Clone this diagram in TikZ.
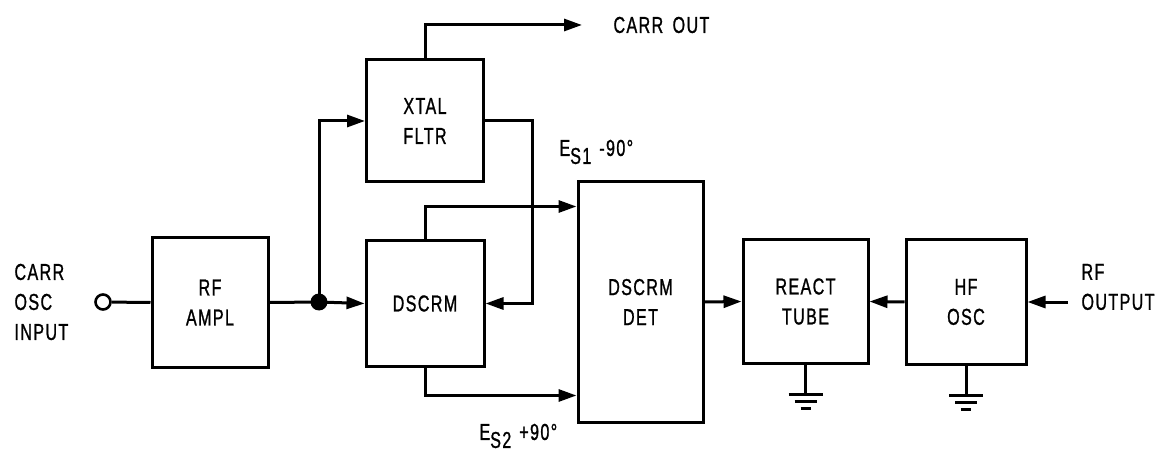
\documentclass[tikz,border=0pt]{standalone}
\usepackage{fontspec}
\setmainfont{Liberation Sans}[FakeStretch=0.7,LetterSpace=6,FakeBold=1,WordSpace=1.6]
\usetikzlibrary{arrows.meta,calc}
\begin{document}
\begin{tikzpicture}[x=1pt,y=-1pt,
  line width=3pt,
  every node/.style={font=\fontsize{23}{30}\selectfont},
  blk/.style={draw,rectangle,inner sep=0pt,align=center},
  arr/.style={-{Triangle[length=18pt,width=12pt]}},
  lbl/.style={inner sep=0pt,align=left}]
\useasboundingbox (0,0) rectangle (1156,454);
% blocks
\node[blk,minimum width=116,minimum height=129] (rf) at (210,302.5) {RF\\AMPL};
\node[blk,minimum width=117,minimum height=122] (xtal) at (425,121) {XTAL\\FLTR};
\node[blk,minimum width=118,minimum height=125] (dscrm) at (425,303.5) {DSCRM};
\node[blk,minimum width=125,minimum height=240] (det) at (640.5,302) {DSCRM\\DET};
\node[blk,minimum width=125,minimum height=123] (react) at (805.5,301.5) {REACT\\TUBE};
\node[blk,minimum width=120,minimum height=124] (hf) at (966,302) {HF\\OSC};
% terminals
\node[draw,circle,inner sep=0pt,minimum size=15,line width=2.6pt] (inp) at (103,302) {};
\node[fill,circle,inner sep=0pt,minimum size=17] (j) at (319,302) {};
\coordinate (co) at (582,25);
\coordinate (rfo) at (1068,302);
% labels
\node[lbl,anchor=west] (lin) at (13,302) {CARR\\OSC\\INPUT};
\node[lbl,anchor=west] (lco) at (612,25) {CARR OUT};
\node[lbl,anchor=west] (lrf) at (1080,287) {RF\\OUTPUT};
\node[lbl,anchor=west] (les1) at (558,152) {E\raisebox{-8pt}{S1}\hspace{8pt}-90°};
\node[lbl,anchor=west] (les2) at (478,436) {E\raisebox{-8pt}{S2}\hspace{8pt}+90°};
% connectors
\draw (inp) -- (rf.west);
\draw (rf.east) -- (j.center);
\draw[arr] (j.center) -- (dscrm.west);
\draw[arr] (j.center) |- (xtal.west);
\draw[arr] (xtal.east) -- ++(47,0) |- (dscrm.east);
\draw[arr] (xtal.north) |- (co);
\draw[arr] (dscrm.north) |- ([yshift=-26pt]det.north west);
\draw[arr] (dscrm.south) |- ([yshift=28pt]det.south west);
\draw[arr] (det.east) -- (react.west);
\draw[arr] (hf.west) -- (react.east);
\draw[arr] (rfo) -- (hf.east);
% grounds
\foreach \b in {react,hf}{
  \draw (\b.south) -- ++(0,30) coordinate (g);
  \draw ([xshift=-17pt]g) -- ([xshift=17pt]g);
  \draw ([xshift=-11pt,yshift=-7pt]g) -- ([xshift=11pt,yshift=-7pt]g);
  \draw ([xshift=-5pt,yshift=-14pt]g) -- ([xshift=5pt,yshift=-14pt]g);
}
\end{tikzpicture}
\end{document}
